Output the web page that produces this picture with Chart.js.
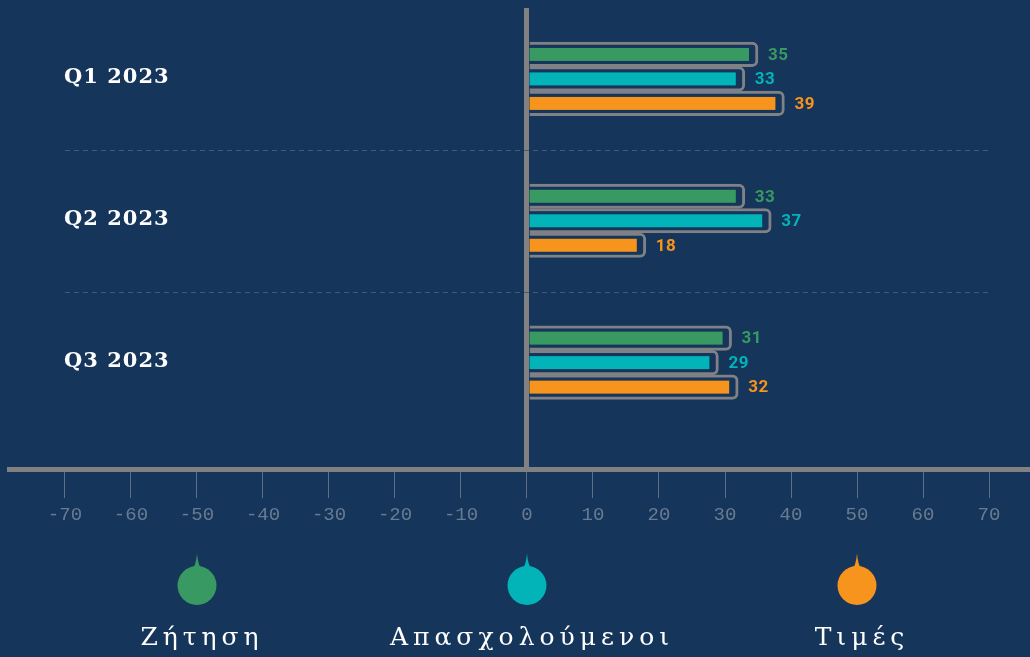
<!DOCTYPE html>
<html>
<head>
<meta charset="utf-8">
<script src="https://cdn.jsdelivr.net/npm/chart.js@4"></script>
<style>
  html, body { margin: 0; padding: 0; background: #15355a; }
  #wrap { width: 1030px; height: 657px; }
</style>
</head>
<body>
<div id="wrap"><canvas id="myChart"></canvas></div>
<script>
// data
const quarters = ['Q1 2023', 'Q2 2023', 'Q3 2023'];
const seriesNames = ['Ζήτηση', 'Απασχολούμενοι', 'Τιμές'];
const demand = [35, 33, 31];
const employed = [33, 37, 29];
const prices = [39, 18, 32];
const xTickValues = [-70, -60, -50, -40, -30, -20, -10, 0, 10, 20, 30, 40, 50, 60, 70];

const seriesColors = ['#389a62', '#02b3b8', '#f7941d'];
const bgColor = '#15355a';
const frameColor = '#7f8186';
const axisColor = '#818181';

// paint the page colour under everything
const background = {
  id: 'background',
  beforeDraw(chart) {
    const ctx = chart.ctx;
    ctx.save();
    ctx.fillStyle = bgColor;
    ctx.fillRect(0, 0, chart.width, chart.height);
    ctx.restore();
  }
};

// dashed separators between quarters + quarter names
const quarterRows = {
  id: 'quarterRows',
  beforeDatasetsDraw(chart) {
    const ctx = chart.ctx;
    const x = chart.scales.x, y = chart.scales.y;
    ctx.save();
    ctx.strokeStyle = '#3e5c80';
    ctx.lineWidth = 1;
    ctx.setLineDash([5, 4]);
    for (let i = 0; i < quarters.length - 1; i++) {
      const py = Math.round(y.getPixelForValue(i + 0.5)) + 0.5;
      ctx.beginPath();
      ctx.moveTo(x.getPixelForValue(xTickValues[0]), py);
      ctx.lineTo(x.getPixelForValue(xTickValues[xTickValues.length - 1]), py);
      ctx.stroke();
    }
    ctx.setLineDash([]);
    ctx.fillStyle = '#ffffff';
    ctx.font = 'bold 21px "DejaVu Serif"';
    ctx.letterSpacing = '1px';
    ctx.textAlign = 'left';
    ctx.textBaseline = 'middle';
    quarters.forEach((q, i) => {
      ctx.fillText(q, x.getPixelForValue(xTickValues[0]) - 1, y.getPixelForValue(i) - 1);
    });
    ctx.restore();
  }
};

// coloured fill inside each framed bar + value labels
const barInner = {
  id: 'barInner',
  afterDatasetsDraw(chart) {
    const ctx = chart.ctx;
    ctx.save();
    chart.data.datasets.forEach((ds, di) => {
      const meta = chart.getDatasetMeta(di);
      meta.data.forEach((el, i) => {
        const p = el.getProps(['x', 'y', 'base'], true);
        ctx.fillStyle = seriesColors[di];
        ctx.fillRect(p.base, p.y - 6.5, p.x - 9 - p.base, 13);
        ctx.font = 'bold 17px Roboto';
        ctx.letterSpacing = '0.5px';
        ctx.textAlign = 'left';
        ctx.textBaseline = 'middle';
        ctx.fillText(ds.data[i], p.x + 10, p.y + 1);
      });
    });
    ctx.restore();
  }
};

// legend: pin-shaped dots with names under them
const pinLegend = {
  id: 'pinLegend',
  afterDraw(chart) {
    const ctx = chart.ctx;
    const mid = chart.scales.x.getPixelForValue(0);
    ctx.save();
    seriesNames.forEach((name, i) => {
      const cx = mid + (i - 1) * 330;
      const cy = 585.5;
      ctx.fillStyle = seriesColors[i];
      ctx.beginPath();
      ctx.arc(cx, cy, 19.5, 0, Math.PI * 2);
      ctx.fill();
      ctx.beginPath();
      ctx.moveTo(cx - 5, cy - 16);
      ctx.quadraticCurveTo(cx - 1, cy - 20, cx, cy - 32);
      ctx.quadraticCurveTo(cx + 1, cy - 20, cx + 5, cy - 16);
      ctx.closePath();
      ctx.fill();
      ctx.fillStyle = '#ffffff';
      ctx.font = '25px "DejaVu Serif"';
      ctx.letterSpacing = '5px';
      ctx.textAlign = 'center';
      ctx.textBaseline = 'alphabetic';
      ctx.fillText(name, cx + 5, 645);
    });
    ctx.restore();
  }
};

const barStyle = {
  barThickness: 24.5,
  backgroundColor: bgColor,
  borderColor: frameColor,
  borderWidth: 3,
  borderSkipped: 'start',
  borderRadius: { topLeft: 0, bottomLeft: 0, topRight: 6, bottomRight: 6 }
};

const ctx = document.getElementById('myChart');
new Chart(ctx, {
  type: 'bar',
  data: {
    labels: quarters.map((q, i) => i),
    datasets: [
      { label: seriesNames[0], data: demand, ...barStyle },
      { label: seriesNames[1], data: employed, ...barStyle },
      { label: seriesNames[2], data: prices, ...barStyle }
    ]
  },
  options: {
    indexAxis: 'y',
    responsive: true,
    maintainAspectRatio: false,
    animation: false,
    layout: { padding: { top: 8, left: 9, right: 0, bottom: 0 } },
    plugins: {
      colors: { enabled: false },
      legend: { display: false },
      tooltip: { enabled: false }
    },
    scales: {
      x: {
        type: 'linear',
        min: -78.48,
        max: 76.21,
        z: 1,
        afterBuildTicks(scale) {
          scale.ticks = xTickValues.map(v => ({ value: v }));
        },
        afterFit(scale) {
          scale.height = 188;
        },
        border: { display: true, color: axisColor, width: 5 },
        grid: {
          drawOnChartArea: true,
          color: c => (c.tick && c.tick.value === 0) ? axisColor : 'rgba(0,0,0,0)',
          lineWidth: c => (c.tick && c.tick.value === 0) ? 5 : 1,
          tickColor: '#5c6f88',
          tickWidth: 1,
          tickLength: 29
        },
        ticks: {
          color: '#687b93',
          font: { family: '"Liberation Mono"', size: 19 },
          padding: 6,
          maxRotation: 0,
          autoSkip: false
        }
      },
      y: {
        type: 'linear',
        reverse: true,
        offset: false,
        min: -0.5,
        max: 2.75,
        display: false
      }
    }
  },
  plugins: [background, quarterRows, barInner, pinLegend]
});
</script>
</body>
</html>
